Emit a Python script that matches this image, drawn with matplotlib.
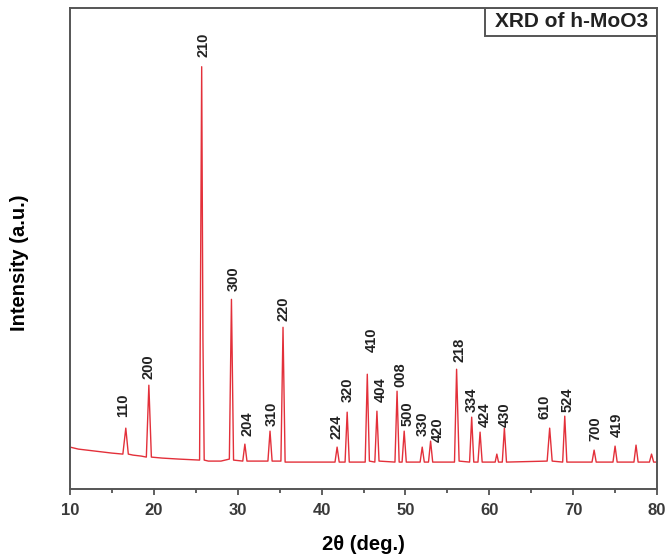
import matplotlib
matplotlib.use("Agg")
import matplotlib.pyplot as plt
from matplotlib.patches import Rectangle
from matplotlib.ticker import MultipleLocator

plt.rcParams['font.family'] = ['Liberation Sans', 'DejaVu Sans']

# XRD trace (2theta in deg, intensity in a.u.)
two_theta = [10.0, 11.0, 12.0, 13.0, 14.0, 15.0, 16.3, 16.65, 16.95, 17.5,
             18.5, 19.1, 19.4, 19.7, 21.0, 23.0, 25.45, 25.7, 25.85, 26.0,
             26.5, 28.0, 29.0, 29.25, 29.5, 30.6, 30.85, 31.1, 33.6, 33.85,
             34.1, 35.15, 35.4, 35.65, 38.0, 41.6, 41.85, 42.1, 42.8, 43.05,
             43.3, 45.2, 45.45, 45.7, 46.35, 46.6, 46.85, 48.75, 49.0, 49.25,
             49.6, 49.85, 50.1, 51.75, 52.0, 52.25, 52.75, 53.0, 53.25, 55.85,
             56.1, 56.4, 57.65, 57.9, 58.15, 58.65, 58.9, 59.15, 60.7, 60.9,
             61.1, 61.55, 61.8, 62.05, 66.9, 67.2, 67.5, 68.75, 69.0, 69.25,
             72.25, 72.5, 72.75, 74.75, 75.0, 75.25, 77.25, 77.5, 77.75, 79.1,
             79.35, 79.6, 80.0]
intensity = [42, 40, 39, 38, 37, 36, 35, 61, 35, 34,
             33, 32, 104, 32, 31, 30, 29, 423, 150, 29,
             28, 28, 30, 190, 29, 28, 45, 28, 28, 58,
             28, 28, 162, 27, 27, 27, 42, 27, 27, 77,
             27, 27, 115, 28, 27, 78, 28, 27, 98, 27,
             27, 58, 27, 27, 42, 27, 27, 48, 27, 27,
             120, 28, 27, 72, 27, 27, 57, 27, 27, 35,
             27, 27, 61, 27, 28, 61, 28, 27, 73, 27,
             27, 39, 27, 27, 43, 27, 27, 44, 27, 27,
             35, 27, 27]

# hkl labels
hkl = ['110', '200', '210', '300', '204', '310', '220', '224', '320', '410',
       '404', '008', '500', '330', '420', '218', '334', '424', '430', '610',
       '524', '700', '419']
label_x = [16.3, 19.4, 25.9, 29.5, 31.2, 34.0, 35.5, 41.8, 43.1, 46.0,
           47.0, 49.4, 50.3, 52.0, 53.8, 56.5, 57.9, 59.5, 61.8, 66.6,
           69.3, 72.6, 75.2]
label_y = [72, 110, 433, 198, 53, 63, 168, 50, 87, 137,
           87, 102, 63, 53, 47, 127, 77, 62, 62, 70,
           77, 48, 52]

fig = plt.figure(figsize=(6.67, 5.57), dpi=100)
ax = fig.add_axes([0.105, 0.122, 0.88, 0.864])

ax.plot(two_theta, intensity, color='#e3303a', lw=1.0)

for lab, lx, ly in zip(hkl, label_x, label_y):
    ax.text(lx, ly, lab, rotation=90, ha='center', va='bottom',
            fontsize=10.5, fontweight='bold', color='#222222')

ax.set_xlim(10, 80)
ax.set_ylim(0, 482)
ax.xaxis.set_major_locator(MultipleLocator(10))
ax.xaxis.set_minor_locator(MultipleLocator(5))
ax.set_yticks([])
ax.tick_params(axis='x', which='major', direction='out', length=4, width=1.2,
               color='#444444', labelsize=12, pad=6)
ax.tick_params(axis='x', which='minor', direction='out', length=3, width=1.2,
               color='#444444')
for t in ax.get_xticklabels():
    t.set_fontweight('bold')
    t.set_color('#3a3a3a')

for sp in ax.spines.values():
    sp.set_color('#555555')
    sp.set_linewidth(1.4)

ax.set_xlabel('2θ (deg.)', fontsize=14.5, fontweight='bold', labelpad=12)
ax.set_ylabel('Intensity (a.u.)', fontsize=14.5, fontweight='bold')
ax.yaxis.set_label_coords(-0.07, 0.47)

# title box in the top right corner
ax.add_patch(Rectangle((0.707, 0.942), 0.293, 0.058, transform=ax.transAxes,
                       facecolor='white', edgecolor='#555555', lw=1.4))
ax.text(0.855, 0.971, 'XRD of h-MoO3', transform=ax.transAxes,
        ha='center', va='center', fontsize=15, fontweight='bold', color='#222222')

fig.savefig('out.png', dpi=100)
